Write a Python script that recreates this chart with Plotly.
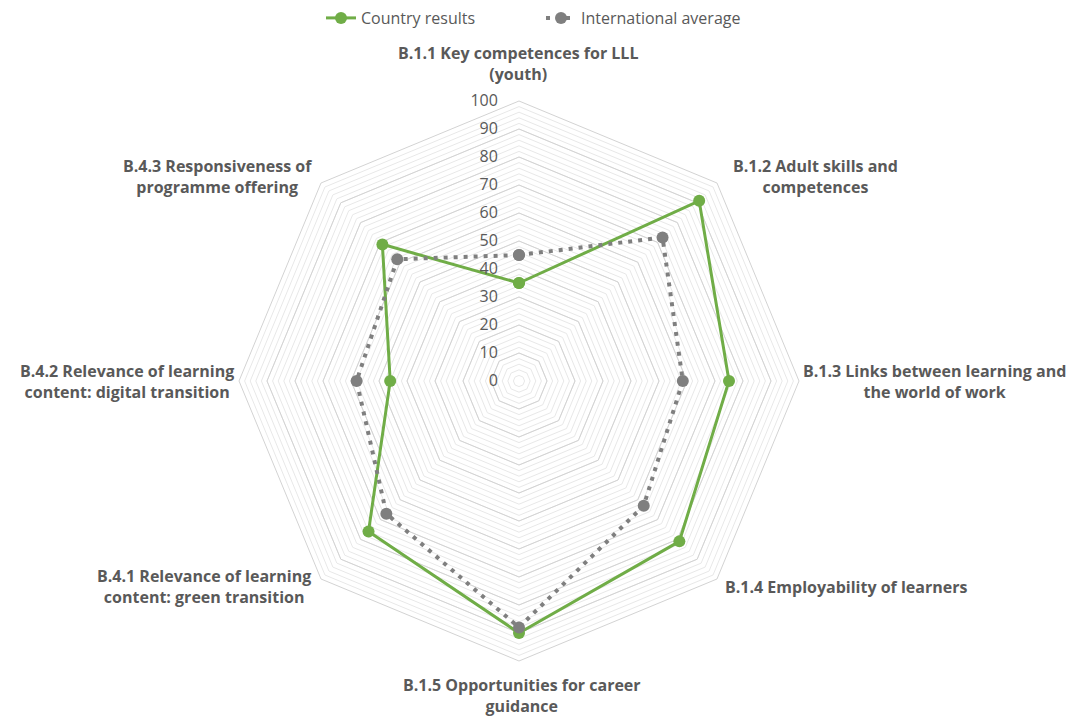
import plotly.graph_objects as go

categories = [
    "B.1.1 Key competences for LLL<br>(youth)",
    "B.1.2 Adult skills and<br>competences",
    "B.1.3 Links between learning and<br>the world of work",
    "B.1.4 Employability of learners",
    "B.1.5 Opportunities for career<br>guidance",
    "B.4.1 Relevance of learning<br>content: green transition",
    "B.4.2 Relevance of learning<br>content: digital transition",
    "B.4.3 Responsiveness of<br>programme offering",
]
country = [35, 91, 75, 81, 90, 76, 46, 69]
intl_avg = [45, 72.5, 58.5, 63, 88, 67, 58, 61.5]

# page is rendered with an 8px body margin; positions below are screen px
OFF = 8
W, H = 1070, 711
label_pos = [(518, 64), (815, 176), (934, 381), (846, 587), (522, 695), (204, 586), (127, 381), (217, 176)]

FONT = "Open Sans"
TXT = "#595959"
CX, CY, R = 519 - OFF, 381 - OFF, 280

theta = categories + [categories[0]]
fig = go.Figure()
fig.add_trace(go.Scatterpolar(
    r=country + [country[0]], theta=theta, subplot="polar2", name="Country results",
    mode="lines+markers", line=dict(color="#70AD47", width=3),
    marker=dict(size=12, color="#70AD47"),
))
fig.add_trace(go.Scatterpolar(
    r=intl_avg + [intl_avg[0]], theta=theta, subplot="polar2", name="International average",
    mode="lines+markers", line=dict(color="#7F7F7F", width=4, dash="4px,6px"),
    marker=dict(size=12, color="#7F7F7F"),
))
fig.add_trace(go.Scatterpolar(r=[0], theta=[categories[0]], subplot="polar", showlegend=False,
                              mode="markers", marker=dict(size=1, opacity=0), hoverinfo="skip"))

dom = dict(x=[(CX - R) / W, (CX + R) / W], y=[1 - (CY + R) / H, 1 - (CY - R) / H])
common_ang = dict(categoryorder="array", categoryarray=categories, direction="clockwise",
                  rotation=90, showgrid=False, showticklabels=False, ticks="")
fig.update_layout(
    width=W, height=H, margin=dict(l=0, r=0, t=0, b=0, autoexpand=False),
    paper_bgcolor="white", plot_bgcolor="white",
    font=dict(family=FONT, color=TXT, size=16),
    polar=dict(
        domain=dom, bgcolor="rgba(0,0,0,0)", gridshape="linear",
        radialaxis=dict(range=[0, 100], dtick=2, showgrid=True, gridcolor="#E8E8E8", gridwidth=1,
                        showticklabels=False, ticks="", showline=False, angle=90),
        angularaxis=dict(type="category", showline=False, **common_ang),
    ),
    polar2=dict(
        domain=dom, bgcolor="rgba(0,0,0,0)", gridshape="linear",
        radialaxis=dict(range=[0, 100], dtick=10, showgrid=True, gridcolor="#D3D3D3", gridwidth=1,
                        showticklabels=True, ticks="outside", ticklen=15, tickcolor="rgba(0,0,0,0)",
                        showline=False, angle=90, tickangle=90,
                        side="counterclockwise", tickfont=dict(size=16, color=TXT, family=FONT)),
        angularaxis=dict(type="category", showline=True, linecolor="#D3D3D3", **common_ang),
    ),
    showlegend=True,
    legend=dict(orientation="h", x=0.5 - 2 / W, xanchor="center", y=1 + 7 / H, yanchor="top",
                font=dict(size=16, color=TXT, family=FONT), entrywidth=175,
                tracegroupgap=0),
)

for cat, (px, py) in zip(categories, label_pos):
    fig.add_annotation(text="<b>" + cat + "</b>", x=(px - OFF) / W, y=1 - (py - OFF) / H,
                       xref="paper", yref="paper", showarrow=False, xanchor="center",
                       yanchor="middle", align="center",
                       font=dict(size=16, color=TXT, family=FONT))

fig.write_html("out.html")
